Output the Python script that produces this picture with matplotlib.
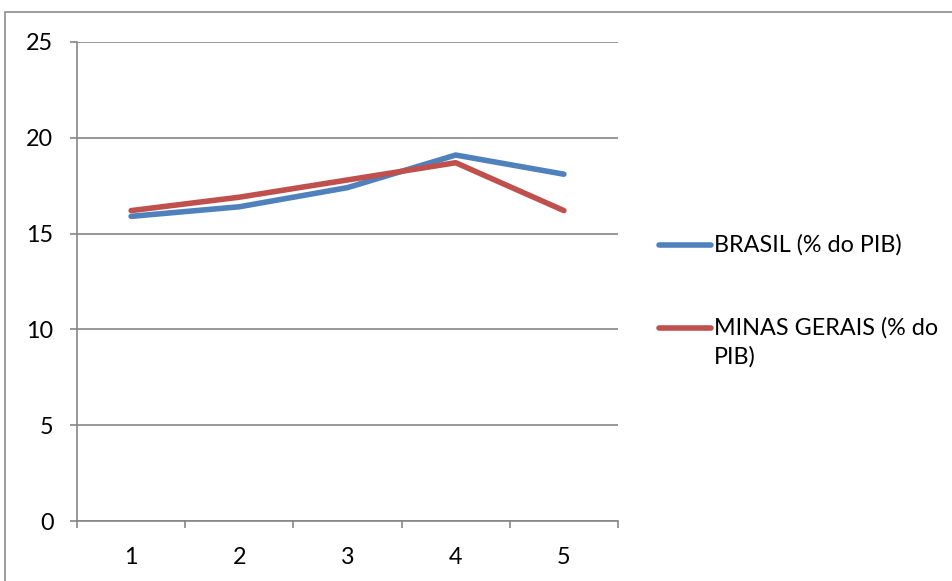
import matplotlib.pyplot as plt
from matplotlib.lines import Line2D
from matplotlib.patches import Rectangle

plt.rcParams['font.family'] = 'Lato'

periodos = ['1', '2', '3', '4', '5']
brasil = [15.9, 16.4, 17.4, 19.1, 18.1]
minas = [16.2, 16.9, 17.8, 18.7, 16.2]
series = [('BRASIL (% do PIB)', brasil, '#4F81BD'),
          ('MINAS GERAIS (% do\nPIB)', minas, '#C0504D')]

W, H = 953, 581
fs = 16.8
lw = 4.0
fig = plt.figure(figsize=(W / 100, H / 100), dpi=100)
ax = fig.add_axes([77 / W, 1 - 521 / H, (618 - 77) / W, (521 - 42) / H])

grid_c = '#868686'
x = list(range(len(periodos)))
for nome, vals, cor in series:
    ax.plot(x, vals, color=cor, lw=lw, solid_capstyle='round', zorder=3)

ax.set_xlim(-0.5, len(periodos) - 0.5)
ax.set_ylim(0, 25)
ax.set_yticks(range(0, 26, 5))
ax.yaxis.grid(True, color=grid_c, lw=1.2)
ax.set_axisbelow(True)

# category labels centred, ticks on the category borders
ax.set_xticks(x)
ax.set_xticklabels(periodos)
ax.set_xticks([i - 0.5 for i in range(len(periodos) + 1)], minor=True)
ax.tick_params(axis='x', which='major', length=0, pad=19, labelsize=fs)
ax.tick_params(axis='x', which='minor', length=5, width=1.2, color=grid_c)
ax.tick_params(axis='y', length=5, width=1.2, color=grid_c, pad=12, labelsize=fs)

for s in ['top', 'right']:
    ax.spines[s].set_visible(False)
for s in ['left', 'bottom']:
    ax.spines[s].set_color(grid_c)
    ax.spines[s].set_linewidth(1.2)

# chart frame
fig.add_artist(Rectangle((4.5 / W, -0.1), 1.2, 1 - 12.5 / H + 0.1,
                         transform=fig.transFigure, fill=False,
                         edgecolor='#8C8C8C', lw=1.2))

# legend
leg_y = [245, 328]
for (nome, vals, cor), yy in zip(series, leg_y):
    fy = 1 - yy / H
    fig.add_artist(Line2D([659 / W, 711 / W], [fy, fy], color=cor, lw=lw,
                          solid_capstyle='round', transform=fig.transFigure))
    linhas = nome.split('\n')
    for k, t in enumerate(linhas):
        fig.text(714 / W, 1 - (yy + 29 * k) / H, t, fontsize=fs,
                 va='center', ha='left')

fig.savefig('out.png', dpi=100)
